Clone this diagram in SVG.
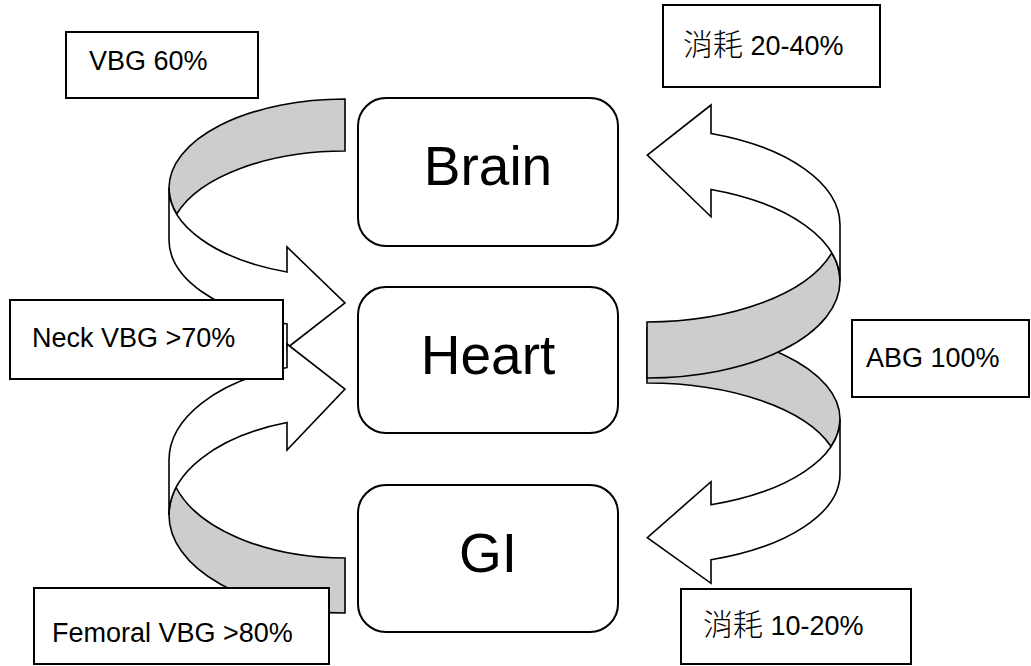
<svg xmlns="http://www.w3.org/2000/svg" width="1031" height="666" viewBox="0 0 1031 666">
<style>
.bk{fill:#cdcdcd;stroke:#000;stroke-width:1.6;stroke-linejoin:miter}
.fr{fill:#fff;stroke:#000;stroke-width:1.6;stroke-linejoin:miter}
.node{fill:#fff;stroke:#000;stroke-width:2}
.lbl{fill:#fff;stroke:#000;stroke-width:2}
.nt{font-family:"Liberation Sans",Arial,sans-serif;font-size:55px;fill:#000;text-anchor:middle}
.lt{font-family:"Liberation Sans",Arial,"Noto Sans CJK TC",sans-serif;font-size:27px;fill:#000}
.cjk{font-family:"Noto Sans CJK TC","Noto Sans CJK SC",sans-serif;font-size:30px;font-weight:300}
</style>
<rect width="1031" height="666" fill="#fff"/>
<g id="connectors">
  <g id="arrow-br">
    <path class="bk" d="M647,328 A193,91 0 0 1 840,419 A193,91 0 0 1 831,446.5 A193,91 0 0 0 647,383 Z"/>
    <path class="fr" d="M840,419 A193,91 0 0 1 711,504.8 L711,481.7 L647.3,537.7 L711,583.3 L711,559.8 A193,91 0 0 0 840,474 Z"/>
  </g>
  <g id="arrow-tr">
    <path class="bk" d="M647,378 A193,97 0 0 0 840,281 A193,97 0 0 0 831.8,253 A193,97 0 0 1 647,322 Z"/>
    <path class="fr" d="M840,281 A193,97 0 0 0 711,189.5 L711,216.7 L647.3,155 L711,105 L711,133.5 A193,97 0 0 1 840,225 Z"/>
  </g>
  <g id="arrow-tl">
    <path class="bk" d="M345,99 A176,89 0 0 0 169,188 A176,89 0 0 0 176.7,214 A176,89 0 0 1 345,151 Z"/>
    <path class="fr" d="M169,188 A176,89 0 0 0 287,272 L287,247 L345,303 L287,348 L287,324 A176,89 0 0 1 169,240 Z"/>
  </g>
  <g id="arrow-bl">
    <path class="bk" d="M345,613 A176,98 0 0 1 169,515 A176,98 0 0 1 176.1,487.5 A176,98 0 0 0 345,558 Z"/>
    <path class="fr" d="M169,515 A176,98 0 0 1 287,422.5 L287,450 L345,389 L287,344 L287,367.5 A176,98 0 0 0 169,460 Z"/>
  </g>
</g>
<g id="node-brain">
  <rect class="node" x="358" y="98" width="260" height="148" rx="28"/>
  <text class="nt" x="488" y="185">Brain</text>
</g>
<g id="node-heart">
  <rect class="node" x="358" y="287" width="260" height="146" rx="28"/>
  <text class="nt" x="488" y="374">Heart</text>
</g>
<g id="node-gi">
  <rect class="node" x="358" y="485" width="260" height="147" rx="28"/>
  <text class="nt" x="488" y="572">GI</text>
</g>
<g id="label-vbg60">
  <rect class="lbl" x="66" y="32" width="192" height="66"/>
  <text class="lt" x="89" y="70">VBG 60%</text>
</g>
<g id="label-consume-top">
  <rect class="lbl" x="663" y="5" width="217" height="82"/>
  <text class="lt" x="683" y="55"><tspan class="cjk">消耗</tspan> 20-40%</text>
</g>
<g id="label-abg">
  <rect class="lbl" x="852" y="320" width="177" height="77"/>
  <text class="lt" x="866" y="367">ABG 100%</text>
</g>
<g id="label-neck">
  <rect class="lbl" x="10" y="300" width="273" height="79"/>
  <text class="lt" x="32" y="347">Neck VBG &gt;70%</text>
</g>
<g id="label-femoral">
  <rect class="lbl" x="34" y="588" width="295" height="76"/>
  <text class="lt" x="52" y="642">Femoral VBG &gt;80%</text>
</g>
<g id="label-consume-bottom">
  <rect class="lbl" x="681" y="589" width="230" height="75"/>
  <text class="lt" x="703" y="635"><tspan class="cjk">消耗</tspan> 10-20%</text>
</g>
</svg>
